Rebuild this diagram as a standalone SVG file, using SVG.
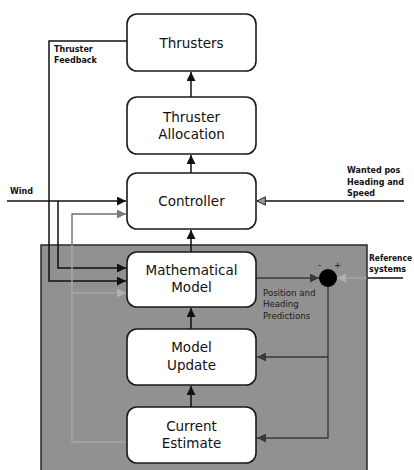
<svg xmlns="http://www.w3.org/2000/svg" width="414" height="470" viewBox="0 0 414 470">
  <defs>
    <style>
      .box { fill: #ffffff; stroke: #1a1a1a; stroke-width: 1.6; }
      .lbl { font-family: "DejaVu Sans", Verdana, sans-serif; font-size: 13.5px; fill: #111; text-anchor: middle; }
      .note { font-family: "DejaVu Sans", Verdana, sans-serif; font-size: 8px; font-weight: bold; fill: #111; }
      .pred { font-family: "DejaVu Sans", Verdana, sans-serif; font-size: 8.6px; fill: #1a1a1a; }
      .ln { fill: none; stroke: #111; stroke-width: 1.5; }
      .gl { fill: none; stroke: #6e6e6e; stroke-width: 1.4; }
      .gl2 { fill: none; stroke: #a6a6a6; stroke-width: 1.4; }
      .dl { fill: none; stroke: #3a3a3a; stroke-width: 1.4; }
    </style>
    <marker id="arrBlack" viewBox="0 0 10 10" refX="10" refY="5" markerWidth="9" markerHeight="9" markerUnits="userSpaceOnUse" orient="auto">
      <path d="M0,0 L10,5 L0,10 z" fill="#111"/>
    </marker>
    <marker id="arrGrey" viewBox="0 0 10 10" refX="10" refY="5" markerWidth="9" markerHeight="9" markerUnits="userSpaceOnUse" orient="auto">
      <path d="M0,0 L10,5 L0,10 z" fill="#7a7a7a"/>
    </marker>
    <marker id="arrLight" viewBox="0 0 10 10" refX="10" refY="5" markerWidth="9" markerHeight="9" markerUnits="userSpaceOnUse" orient="auto">
      <path d="M0,0 L10,5 L0,10 z" fill="#b0b0b0"/>
    </marker>
    <marker id="arrDark" viewBox="0 0 10 10" refX="10" refY="5" markerWidth="9" markerHeight="9" markerUnits="userSpaceOnUse" orient="auto">
      <path d="M0,0 L10,5 L0,10 z" fill="#3a3a3a"/>
    </marker>
    <marker id="arrOpen" viewBox="0 0 12 12" refX="11" refY="6" markerWidth="10" markerHeight="10" markerUnits="userSpaceOnUse" orient="auto">
      <path d="M1,1 L11,6 L1,11 z" fill="#9a9a9a" stroke="#222" stroke-width="1.2"/>
    </marker>
  </defs>

  <rect width="414" height="470" fill="#ffffff"/>

  <!-- shaded estimator region -->
  <rect id="estimator" x="41" y="245" width="326" height="230" fill="#919191" stroke="#2a2a2a" stroke-width="1.5"/>

  <g id="connectors">
    <!-- vertical chain -->
    <line class="ln" x1="191" y1="97" x2="191" y2="72" marker-end="url(#arrBlack)"/>
    <line class="ln" x1="191" y1="173" x2="191" y2="155" marker-end="url(#arrBlack)"/>
    <line class="ln" x1="191" y1="252" x2="191" y2="230" marker-end="url(#arrBlack)"/>
    <line class="ln" x1="191" y1="329" x2="191" y2="308" marker-end="url(#arrBlack)"/>
    <line class="ln" x1="191" y1="407" x2="191" y2="386" marker-end="url(#arrBlack)"/>

    <!-- thruster feedback -->
    <polyline class="ln" points="127,41 49,41 49,281 126,281" marker-end="url(#arrBlack)"/>

    <!-- wind -->
    <line class="ln" x1="7" y1="201" x2="126" y2="201" marker-end="url(#arrBlack)"/>
    <polyline class="ln" points="58,201 58,268 126,268" marker-end="url(#arrBlack)"/>

    <!-- estimate feedback (grey) -->
    <polyline class="gl" points="72,245 72,214 126,214" marker-end="url(#arrGrey)"/>
    <polyline class="gl2" points="72,245 72,442 127,442"/>
    <line class="gl2" x1="72" y1="293" x2="126" y2="293" marker-end="url(#arrLight)"/>

    <!-- wanted position, heading and speed -->
    <line class="ln" x1="404" y1="201" x2="257" y2="201" marker-end="url(#arrOpen)"/>

    <!-- predictions to summation -->
    <line class="dl" x1="256" y1="278" x2="319" y2="278" marker-end="url(#arrDark)"/>

    <!-- reference systems to summation -->
    <line class="ln" x1="367" y1="278" x2="403" y2="278"/>
    <line class="gl2" x1="367" y1="278" x2="337" y2="278" marker-end="url(#arrLight)"/>

    <!-- summation error back to update and estimate -->
    <polyline class="dl" points="328,287 328,438 257,438" marker-end="url(#arrDark)"/>
    <line class="dl" x1="328" y1="357" x2="257" y2="357" marker-end="url(#arrDark)"/>
  </g>

  <g id="thrusters">
    <rect class="box" x="127" y="14" width="129" height="57" rx="10"/>
    <text class="lbl" x="191.5" y="48">Thrusters</text>
  </g>

  <g id="thruster-allocation">
    <rect class="box" x="127" y="97" width="129" height="57" rx="10"/>
    <text class="lbl" x="191.5" y="122">Thruster</text>
    <text class="lbl" x="191.5" y="139">Allocation</text>
  </g>

  <g id="controller">
    <rect class="box" x="127" y="173" width="129" height="56" rx="10"/>
    <text class="lbl" x="191.5" y="206">Controller</text>
  </g>

  <g id="mathematical-model">
    <rect class="box" x="127" y="252" width="129" height="55" rx="10"/>
    <text class="lbl" x="191.5" y="275">Mathematical</text>
    <text class="lbl" x="191.5" y="292">Model</text>
  </g>

  <g id="model-update">
    <rect class="box" x="127" y="329" width="129" height="56" rx="10"/>
    <text class="lbl" x="191.5" y="352">Model</text>
    <text class="lbl" x="191.5" y="370">Update</text>
  </g>

  <g id="current-estimate">
    <rect class="box" x="127" y="407" width="129" height="56" rx="10"/>
    <text class="lbl" x="191.5" y="431">Current</text>
    <text class="lbl" x="191.5" y="448">Estimate</text>
  </g>

  <g id="summation">
    <circle cx="328" cy="278" r="9" fill="#000"/>
    <text class="pred" x="318" y="268">-</text>
    <text class="pred" x="334" y="268">+</text>
  </g>

  <!-- signal labels -->
  <g id="labels">
    <text class="note" x="54" y="52">Thruster</text>
    <text class="note" x="54" y="63">Feedback</text>
    <text class="note" x="10" y="194">Wind</text>
    <text class="note" x="347" y="173">Wanted pos</text>
    <text class="note" x="347" y="185">Heading and</text>
    <text class="note" x="347" y="196">Speed</text>
    <text class="note" x="369" y="261" textLength="43" lengthAdjust="spacingAndGlyphs">Reference</text>
    <text class="note" x="369" y="272">systems</text>
    <text class="pred" x="263" y="296">Position and</text>
    <text class="pred" x="263" y="307">Heading</text>
    <text class="pred" x="263" y="319">Predictions</text>
  </g>
</svg>
